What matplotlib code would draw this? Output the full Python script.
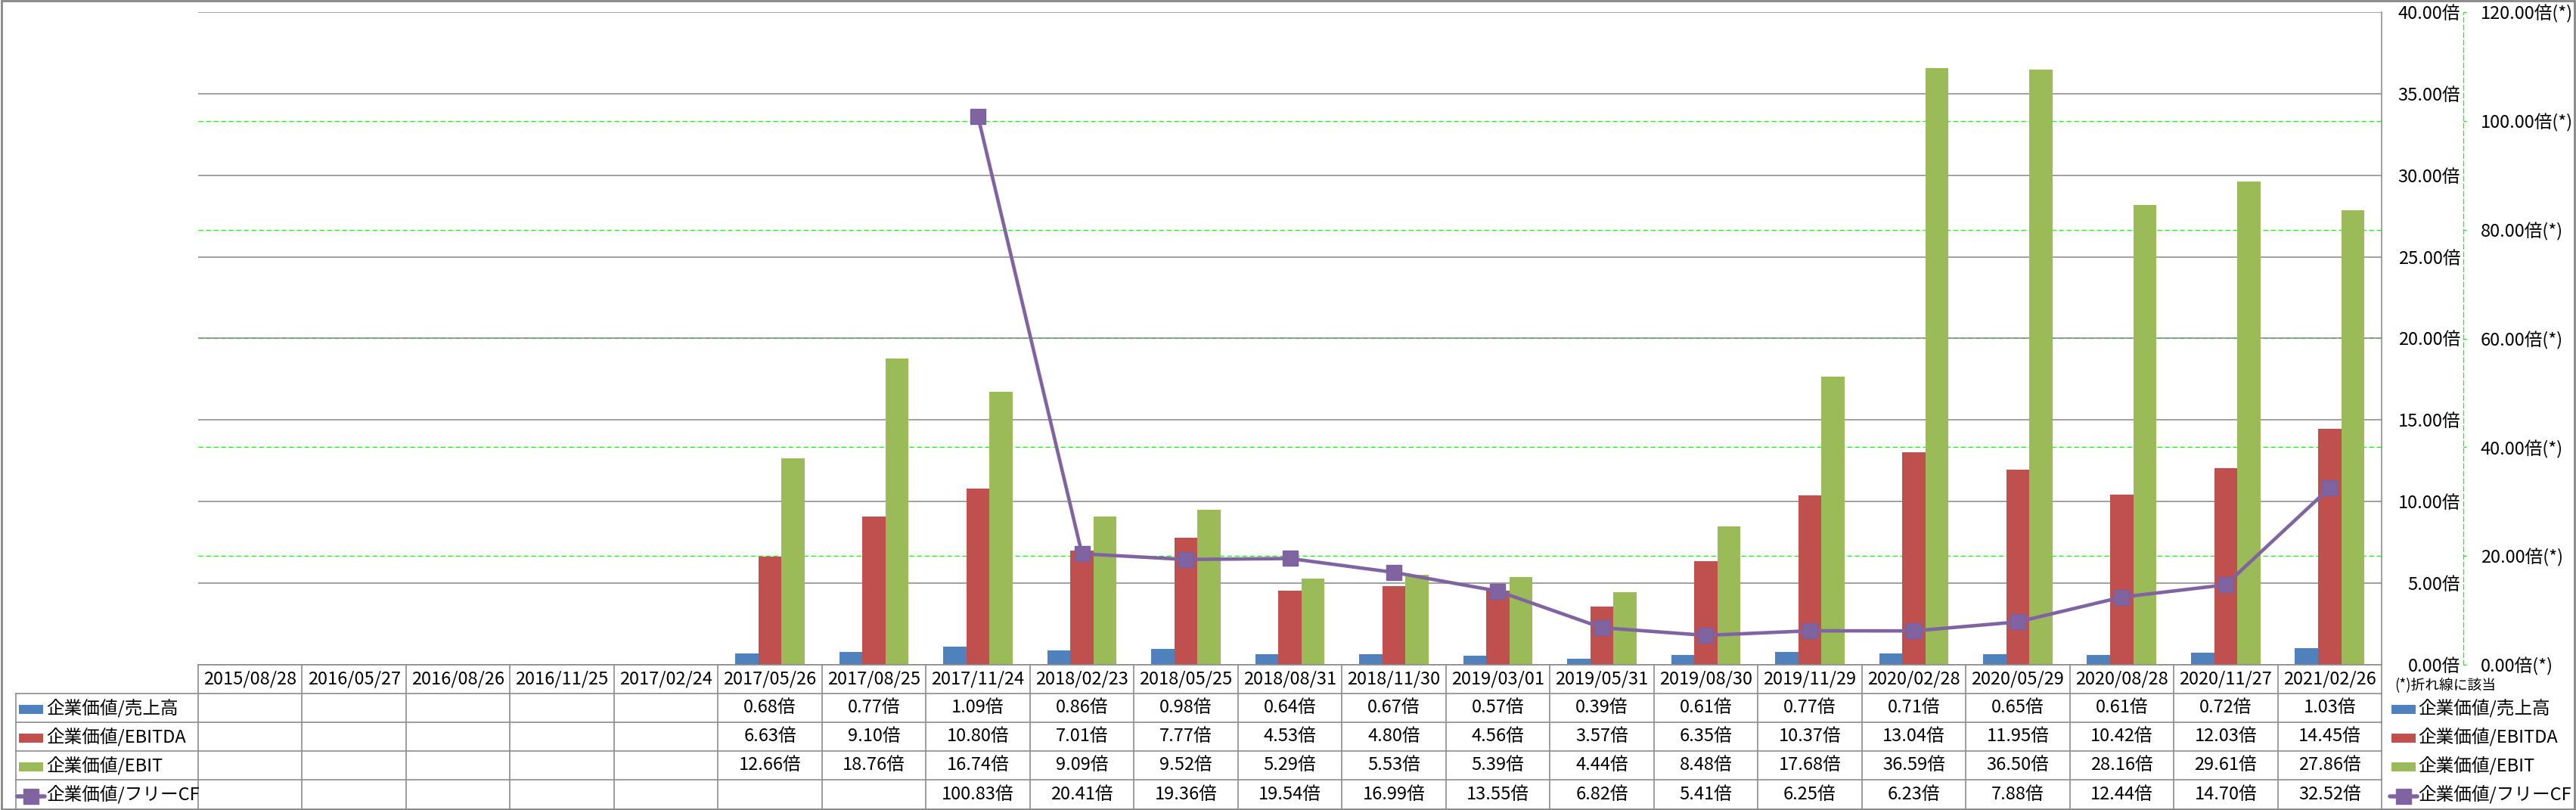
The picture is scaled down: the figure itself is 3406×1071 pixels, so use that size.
import numpy as np
import matplotlib
matplotlib.use('Agg')
import matplotlib.pyplot as plt
import matplotlib.transforms as mtrans
from matplotlib.lines import Line2D
from matplotlib.patches import Rectangle

plt.rcParams['font.family'] = ['Noto Sans CJK JP', 'DejaVu Sans']

nan = np.nan
dates = ['2015/08/28', '2016/05/27', '2016/08/26', '2016/11/25', '2017/02/24',
         '2017/05/26', '2017/08/25', '2017/11/24', '2018/02/23', '2018/05/25',
         '2018/08/31', '2018/11/30', '2019/03/01', '2019/05/31', '2019/08/30',
         '2019/11/29', '2020/02/28', '2020/05/29', '2020/08/28', '2020/11/27',
         '2021/02/26']
ev_sales = [nan, nan, nan, nan, nan, 0.68, 0.77, 1.09, 0.86, 0.98, 0.64, 0.67,
            0.57, 0.39, 0.61, 0.77, 0.71, 0.65, 0.61, 0.72, 1.03]
ev_ebitda = [nan, nan, nan, nan, nan, 6.63, 9.10, 10.80, 7.01, 7.77, 4.53, 4.80,
             4.56, 3.57, 6.35, 10.37, 13.04, 11.95, 10.42, 12.03, 14.45]
ev_ebit = [nan, nan, nan, nan, nan, 12.66, 18.76, 16.74, 9.09, 9.52, 5.29, 5.53,
           5.39, 4.44, 8.48, 17.68, 36.59, 36.50, 28.16, 29.61, 27.86]
ev_fcf = [nan, nan, nan, nan, nan, nan, nan, 100.83, 20.41, 19.36, 19.54, 16.99,
          13.55, 6.82, 5.41, 6.25, 6.23, 7.88, 12.44, 14.70, 32.52]
series_names = ['企業価値/売上高', '企業価値/EBITDA', '企業価値/EBIT', '企業価値/フリーCF']
primary_ticks = [0, 5, 10, 15, 20, 25, 30, 35, 40]
secondary_ticks = [0, 20, 40, 60, 80, 100, 120]
note_text = '(*)折れ線に該当'

C_BLUE, C_RED, C_GREEN, C_PURPLE = '#4F81BD', '#C0504D', '#9BBB59', '#8064A2'
GRID = '#868686'
LIME = '#00FF00'

W, H = 3406, 1071
fig = plt.figure(figsize=(W / 100, H / 100), dpi=100)
fx = lambda px: px / W
fy = lambda py: (H - py) / H

PL, PR, PT, PB = 262, 3149, 16, 879
ax = fig.add_axes([fx(PL), fy(PB), fx(PR) - fx(PL), fy(PT) - fy(PB)])
ax2 = ax.twinx()
n = len(dates)
x = np.arange(n)
ax.set_xlim(-0.5, n - 0.5)
ax.set_ylim(0, 40)
ax.set_axisbelow(True)

FS = 17

# primary axis (labels on the right)
for s in ['top', 'left', 'bottom']:
    ax.spines[s].set_visible(False)
ax.spines['right'].set_color(GRID)
ax.spines['right'].set_linewidth(1.1)
ax.set_xticks([])
ax.yaxis.tick_right()
ax.yaxis.set_label_position('right')
ax.set_yticks(primary_ticks)
ax.set_yticklabels([f'{v:.2f}倍' for v in primary_ticks])
ax.tick_params(axis='y', which='both', left=False, labelleft=False, right=True,
               labelright=True, length=0, pad=75, labelsize=FS)
plt.setp(ax.get_yticklabels(), ha='right')
ax.yaxis.grid(True, color=GRID, lw=1.1, zorder=0.5)

# secondary gridlines (behind bars, below the grey grid)
ratio = 40 / 120
for s in secondary_ticks[1:-1]:
    ax.axhline(s * ratio, color=LIME, lw=0.9, linestyle=(0, (5, 3)), zorder=0.3)

# bars
w = 1 / 4.5
ax.bar(x - w, ev_sales, w, color=C_BLUE, zorder=2)
ax.bar(x, ev_ebitda, w, color=C_RED, zorder=2)
ax.bar(x + w, ev_ebit, w, color=C_GREEN, zorder=2)

# secondary axis with line
ax2.set_ylim(0, 120)
ax2.set_xlim(-0.5, n - 0.5)
for s in ['top', 'left', 'bottom']:
    ax2.spines[s].set_visible(False)
ax2.spines['right'].set_position(('outward', 77.8))
ax2.spines['right'].set_color(LIME)
ax2.spines['right'].set_linestyle((0, (5, 3)))
ax2.spines['right'].set_linewidth(0.9)
ax2.set_yticks(secondary_ticks)
ax2.set_yticklabels([f'{v:.2f}倍(*)' for v in secondary_ticks])
ax2.tick_params(axis='y', direction='out', length=3, width=0.9, color=LIME,
                pad=13.5, labelsize=FS)
ax2.plot(x, ev_fcf, color=C_PURPLE, lw=3.3, marker='s', ms=14,
         mfc=C_PURPLE, mec='#7A5E9E', mew=1, zorder=5)

# ---- data table ----
tb = mtrans.blended_transform_factory(ax.transData, fig.transFigure)
tf = fig.transFigure
LINE_KW = dict(color='#8C8C8C', lw=1.2)
rows_y = [879, 917, 955, 993, 1031, 1070]
left_col = 21

fig.add_artist(Line2D([fx(PL), fx(PR)], [fy(879), fy(879)], transform=tf, **LINE_KW))
for yy in rows_y[1:]:
    fig.add_artist(Line2D([fx(left_col), fx(PR)], [fy(yy), fy(yy)], transform=tf, **LINE_KW))
for i in range(n + 1):
    fig.add_artist(Line2D([i - 0.5, i - 0.5], [fy(879), fy(1070)], transform=tb, **LINE_KW))
fig.add_artist(Line2D([fx(left_col), fx(left_col)], [fy(917), fy(1070)], transform=tf, **LINE_KW))

for i, d in enumerate(dates):
    fig.text(i, fy((879 + 917) / 2), d, transform=tb, ha='center', va='center', fontsize=FS)
all_series = [ev_sales, ev_ebitda, ev_ebit, ev_fcf]
for r, ser in enumerate(all_series):
    yc = fy((rows_y[r + 1] + rows_y[r + 2]) / 2)
    for i, v in enumerate(ser):
        if not np.isnan(v):
            fig.text(i, yc, f'{v:.2f}倍', transform=tb, ha='center', va='center', fontsize=FS)

colors = [C_BLUE, C_RED, C_GREEN]
def draw_key(x0, r):
    ycen = (rows_y[r + 1] + rows_y[r + 2]) / 2 + 2
    if r < 3:
        fig.add_artist(Rectangle((fx(x0), fy(ycen + 6)), fx(32), 12 / H, transform=tf,
                                 facecolor=colors[r], edgecolor='none'))
    else:
        fig.add_artist(Line2D([fx(x0 - 2), fx(x0 + 34)], [fy(ycen), fy(ycen)], transform=tf,
                              color=C_PURPLE, lw=4, solid_capstyle='round'))
        fig.add_artist(Line2D([fx(x0 + 16)], [fy(ycen)], transform=tf, color=C_PURPLE,
                              marker='s', markersize=14, linestyle='none'))

for r, name in enumerate(series_names):
    ycen = (rows_y[r + 1] + rows_y[r + 2]) / 2
    draw_key(25, r)
    fig.text(fx(61), fy(ycen), name, transform=tf, ha='left', va='center', fontsize=FS)
    draw_key(3162, r)
    fig.text(fx(3197), fy(ycen), name, transform=tf, ha='left', va='center', fontsize=FS)

fig.text(fx(3166), fy(907), note_text, transform=tf, ha='left', va='center', fontsize=13.5)

fig.add_artist(Rectangle((0.0005, 0.001), 0.999, 0.998, transform=tf, fill=False,
                         edgecolor='#868686', lw=2))

fig.savefig('out.png', dpi=100)
